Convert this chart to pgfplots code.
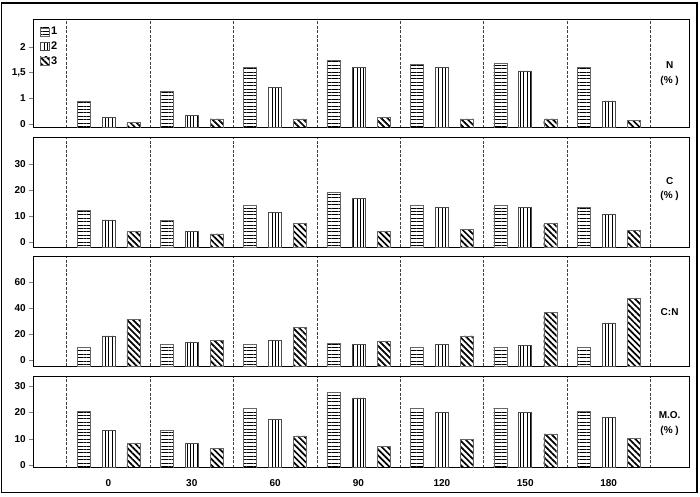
\documentclass[border=0pt]{standalone}
\usepackage{fontspec}
\setmainfont{Liberation Sans}
\usepackage{pgfplots}
\usepackage{pgfplotstable}
\pgfplotsset{compat=1.18}
\usetikzlibrary{patterns.meta}

% values read per sampling day (0..180), one table per panel
\pgfplotstableread{
x  s1   s2   s3
0  0.95 0.63 0.53
1  1.14 0.67 0.60
2  1.60 1.21 0.60
3  1.73 1.60 0.63
4  1.66 1.60 0.60
5  1.68 1.53 0.60
6  1.60 0.95 0.57
}\tabN
\pgfplotstableread{
x  s1   s2   s3
0  12.3 8.5  3.9
1  8.5  4.1  3.0
2  14.2 11.5 7.0
3  19.1 16.8 4.1
4  14.2 13.3 4.9
5  14.2 13.2 7.0
6  13.4 10.6 4.5
}\tabC
\pgfplotstableread{
x  s1   s2   s3
0  10.0 18.5 31.3
1  12.1 13.8 15.4
2  12.1 15.4 24.9
3  12.6 12.1 14.6
4  9.7  12.1 18.5
5  10.0 11.5 36.7
6  9.5  28.5 47.4
}\tabCN
\pgfplotstableread{
x  s1   s2   s3
0  20.5 13.3 8.3
1  13.3 8.3  6.3
2  21.6 17.4 11.1
3  27.6 25.5 7.1
4  21.6 20.0 9.8
5  21.6 20.0 11.8
6  20.3 18.1 10.2
}\tabMO

\tikzset{sidelabel/.style={font=\fontsize{10bp}{14.5bp}\selectfont\bfseries, align=center}}

\pgfplotsset{
  panel/.style={
    scale only axis, width=655.6bp,
    anchor=south west,
    xmin=-0.896, xmax=6.968,
    xtick={0,...,6}, xticklabels={},
    minor xtick={-0.5,0.5,...,6.5},
    xminorgrids=true,
    minor grid style={dash pattern=on 3bp off 1.5bp, black!75, line width=0.5bp},
    axis line style={line width=0.7bp},
    ytick pos=left, tick align=outside,
    major tick length=4.5bp, minor tick length=0pt,
    x tick style={draw=none},
    tick label style={font=\fontsize{10bp}{12bp}\selectfont\bfseries},
    clip=true,
  },
  b1/.style={ybar, bar width=13bp, bar shift=-25bp, draw=black!60, line width=0.4bp,
    pattern={Lines[angle=0, distance=3.4bp, line width=0.7bp]}},
  b2/.style={ybar, bar width=13bp, bar shift=0bp, draw=black!70, line width=0.5bp,
    pattern={Lines[angle=90, distance=3.4bp, line width=0.8bp]}},
  b3/.style={ybar, bar width=13bp, bar shift=25bp, draw=black!60, line width=0.4bp,
    pattern={Lines[angle=-45, distance=4.3bp, line width=1.7bp]}},
}

\begin{document}
\begin{tikzpicture}
\useasboundingbox (0,0) rectangle (700bp,-497bp);
\draw[line width=1.2bp] (1.2bp,-3bp) rectangle (697bp,-492.3bp);

% N (%)
\begin{axis}[panel, at={(33.7bp,-127.7bp)}, height=108.4bp,
  ymin=0.43, ymax=2.53,
  ytick={0.5,1,1.5,2}, yticklabels={0,1,{1,5},2},
  legend style={at={(rel axis cs:0.008,0.955)}, anchor=north west, draw=none, fill=none,
    font=\fontsize{11bp}{12bp}\selectfont\bfseries, row sep=1.5bp, inner sep=1bp,
    /tikz/every even column/.append style={column sep=2bp}},
  legend cell align=left,
  legend image code/.code={\draw[#1] (0bp,-3.8bp) rectangle (8.6bp,4.2bp);}]
\addplot[b1] table[x=x, y=s1] {\tabN};
\addplot[b2] table[x=x, y=s2] {\tabN};
\addplot[b3] table[x=x, y=s3] {\tabN};
\legend{1,2,3}
\node[sidelabel] at (rel axis cs:0.970,0.5) {N\\(\% )};
\end{axis}

% C (%)
\begin{axis}[panel, at={(33.7bp,-247.3bp)}, height=109.6bp,
  y coord trafo/.code={\pgfmathparse{#1+2.17}},
  y coord inv trafo/.code={\pgfmathparse{#1-2.17}},
  ymin=-2.17, ymax=40.3,
  ytick={0,10,20,30}, yticklabels={0,10,20,30}]
\addplot[b1] table[x=x, y=s1] {\tabC};
\addplot[b2] table[x=x, y=s2] {\tabC};
\addplot[b3] table[x=x, y=s3] {\tabC};
\node[sidelabel] at (rel axis cs:0.970,0.53) {C\\(\% )};
\end{axis}

% C:N
\begin{axis}[panel, at={(33.7bp,-366bp)}, height=109.3bp,
  y coord trafo/.code={\pgfmathparse{#1+4.6}},
  y coord inv trafo/.code={\pgfmathparse{#1-4.6}},
  ymin=-4.6, ymax=79.5,
  ytick={0,20,40,60}, yticklabels={0,20,40,60}]
\addplot[b1] table[x=x, y=s1] {\tabCN};
\addplot[b2] table[x=x, y=s2] {\tabCN};
\addplot[b3] table[x=x, y=s3] {\tabCN};
\node[sidelabel] at (rel axis cs:0.970,0.49) {C:N};
\end{axis}

% M.O. (%)
\begin{axis}[panel, at={(33.7bp,-467.7bp)}, height=91.7bp,
  y coord trafo/.code={\pgfmathparse{#1+1.0}},
  y coord inv trafo/.code={\pgfmathparse{#1-1.0}},
  ymin=-1.0, ymax=33.8,
  ytick={0,10,20,30}, yticklabels={0,10,20,30},
  xticklabels={0,30,60,90,120,150,180},
  xticklabel style={yshift=-3.5bp}]
\addplot[b1] table[x=x, y=s1] {\tabMO};
\addplot[b2] table[x=x, y=s2] {\tabMO};
\addplot[b3] table[x=x, y=s3] {\tabMO};
\node[sidelabel] at (rel axis cs:0.970,0.48) {M.O.\\(\% )};
\end{axis}
\end{tikzpicture}
\end{document}
